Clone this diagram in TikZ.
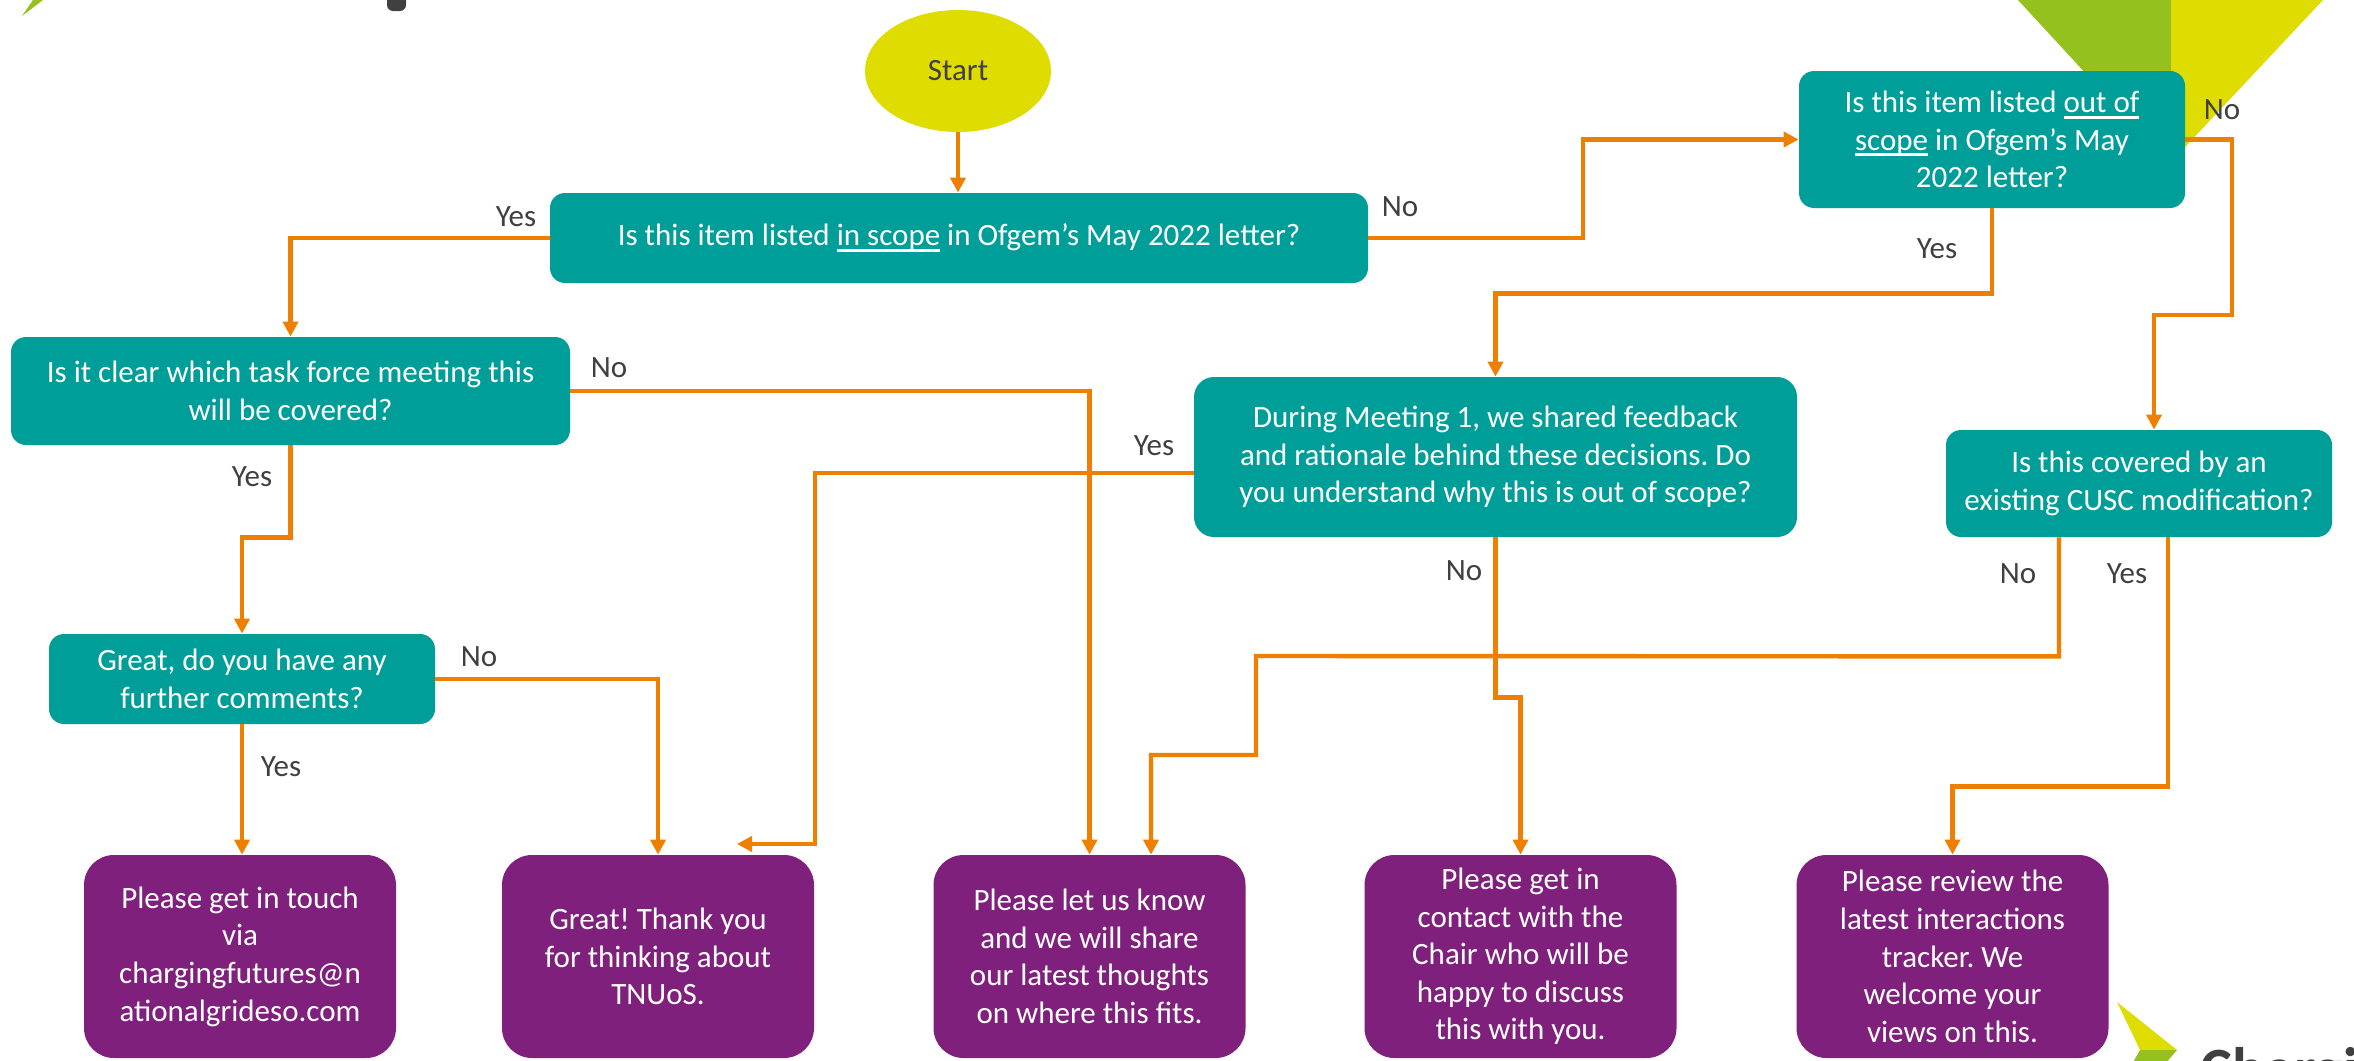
\documentclass[tikz,border=0pt]{standalone}
\usepackage{fontspec}
\setmainfont{Carlito}
\usetikzlibrary{arrows.meta,shapes.geometric}
\definecolor{tealbox}{HTML}{009E98}
\definecolor{purp}{HTML}{80207D}
\definecolor{orng}{HTML}{EE7F00}
\definecolor{yel}{HTML}{DEDC00}
\definecolor{grn}{HTML}{95C11F}
\definecolor{dgray}{HTML}{404040}
\newcommand\myfs{\fontsize{15.5}{18.8}\selectfont}
\newcommand\uln[1]{\setbox0\hbox{#1}\rlap{\rule[-3pt]{\wd0}{1.4pt}}\box0\relax}
\frenchspacing
\begin{document}
\begin{tikzpicture}[x=0.5pt,y=-0.5pt,
  q/.style={fill=tealbox, rounded corners=7.5pt, text=white, align=center, inner sep=0pt, font=\myfs},
  endbox/.style={fill=purp, rounded corners=15pt, text=white, align=center, inner sep=0pt, minimum width=156pt, minimum height=101.5pt, font=\myfs},
  arr/.style={draw=orng, line width=2.2pt, -{Triangle[length=7.5pt,width=7.5pt]}},
  lbl/.style={text=dgray, font=\myfs, inner sep=0pt}
]
\useasboundingbox (0,0) rectangle (2354,1060);
\fill[white] (0,0) rectangle (2354,1060);
% decorations
\fill[grn] (2018,0) -- (2171,0) -- (2171,166) -- cycle;
\fill[yel] (2171,0) -- (2323,0) -- (2171,162) -- cycle;
\fill[grn] (22,16) -- (33,0) -- (43,0) -- cycle;
\fill[dgray, rounded corners=3pt] (387,-8) rectangle (406,11);
\begin{scope}
\clip (0,0) rectangle (2354,1060);
\fill[yel] (2117,1002) -- (2177,1050) -- (2140,1050) -- cycle;
\fill[grn] (2140,1050) -- (2177,1050) -- (2165,1064) -- (2132,1064) -- cycle;
\node[anchor=base west, text=dgray, inner sep=0pt, font=\fontsize{30}{30}\selectfont\bfseries] (logo) at (2200,1089) {Charging Futures};
\end{scope}
% nodes
\node[ellipse, fill=yel, minimum width=93pt, minimum height=61pt, inner sep=0pt, text=dgray, font=\myfs] (start) at (958,71) {Start};
\node[q, minimum width=409pt, minimum height=45pt] (b1) at (959,238) {Is this item listed \uln{in scope} in Ofgem’s May 2022 letter?};
\node[q, minimum width=193pt, minimum height=68.5pt] (b2) at (1992,139.5) {Is this item listed \uln{out of}\\\uln{scope} in Ofgem’s May\\2022 letter?};
\node[q, minimum width=301.5pt, minimum height=80pt, rounded corners=10pt] (b3) at (1495.5,457) {During Meeting 1, we shared feedback\\and rationale behind these decisions. Do\\you understand why this is out of scope?};
\node[q, minimum width=279.5pt, minimum height=54pt] (b4) at (290.5,391) {Is it clear which task force meeting this\\will be covered?};
\node[q, minimum width=193pt, minimum height=53.5pt] (b5) at (2139,483.5) {Is this covered by an\\existing CUSC modification?};
\node[q, minimum width=193pt, minimum height=45pt] (b6) at (242,679) {Great, do you have any\\further comments?};
\node[endbox] (e1) at (240,956.5) {Please get in touch\\via\\chargingfutures@n\\ationalgrideso.com};
\node[endbox] (e2) at (658,956.5) {Great! Thank you\\for thinking about\\TNUoS.};
\node[endbox] (e3) at (1089.5,956.5) {Please let us know\\and we will share\\our latest thoughts\\on where this fits.};
\node[endbox] (e4) at (1520.5,956.5) {Please get in\\contact with the\\Chair who will be\\happy to discuss\\this with you.};
\node[endbox] (e5) at (1952.5,956.5) {Please review the\\latest interactions\\tracker. We\\welcome your\\views on this.};
\coordinate (e2in) at (737,844);
% connectors
\draw[arr] (start.south) -- (start.south |- b1.north);
\draw[arr] (b1.west) -| (b4.north);
\draw[arr] (b1.east) -- (1583,238) |- (b2.west);
\draw[arr] (b2.south) -- ++(0,85) -| (b3.north);
\draw[arr] (b2.east) -- (2232,139.5) |- (2154,315) -- ([xshift=7.5pt]b5.north);
\draw[arr] (b4.east) -| (e3.north);
\draw[arr] (b4.south) -- ++(0,92) -| (b6.north);
\draw[arr] ([yshift=-8pt]b3.west) -- (815,473) |- (e2in);
\draw[arr] (b3.south) -- ++(0,160) -| (e4.north);
\draw[arr] ([xshift=-40pt]b5.south) -- ++(0,119) -- (1256,656) -- (1256,755) -| ([xshift=30.75pt]e3.north);
\draw[arr] ([xshift=14.5pt]b5.south) -- ++(0,249) -| (e5.north);
\draw[arr] (b6.east) -| (e2.north);
\draw[arr] (b6.south) -- (b6.south |- e1.north);
% labels
\node[lbl] (l1) at (516,217) {Yes};
\node[lbl] (l2) at (1400,207) {No};
\node[lbl] (l3) at (2222,110) {No};
\node[lbl] (l4) at (1937,249) {Yes};
\node[lbl] (l5) at (609,368) {No};
\node[lbl] (l6) at (1154,446) {Yes};
\node[lbl] (l7) at (252,477) {Yes};
\node[lbl] (l8) at (1464,571) {No};
\node[lbl] (l9) at (2018,574) {No};
\node[lbl] (l10) at (2127,574) {Yes};
\node[lbl] (l11) at (479,657) {No};
\node[lbl] (l12) at (281,767) {Yes};
\end{tikzpicture}
\end{document}
